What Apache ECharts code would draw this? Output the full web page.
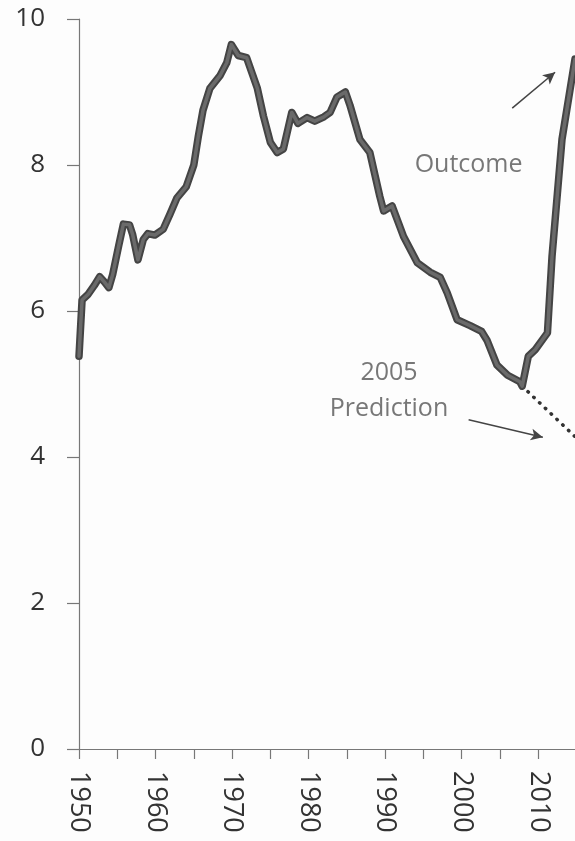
<!DOCTYPE html>
<html>
<head>
<meta charset="utf-8">
<script src="https://cdn.jsdelivr.net/npm/echarts@6/dist/echarts.min.js"></script>
<style>
html,body{margin:0;padding:0;background:#fdfdfd;}
#c{width:575px;height:841px;}
</style>
</head>
<body>
<div id="c"></div>
<script>
// Outcome series (year, value)
const years = [1950.0,1950.4,1951.2,1952.0,1952.7,1953.3,1953.9,1954.4,1955.2,1955.8,1956.6,1957.0,1957.7,1958.4,1959.0,1959.9,1961.0,1961.9,1962.8,1964.0,1965.0,1965.6,1966.2,1967.1,1968.4,1969.3,1969.9,1970.8,1971.9,1973.3,1974.1,1975.0,1975.9,1976.7,1977.8,1978.6,1979.8,1980.8,1982.0,1982.8,1983.7,1984.8,1985.4,1986.7,1988.0,1989.3,1989.8,1990.9,1992.4,1994.2,1995.9,1997.2,1998.1,1999.4,2001.1,2002.6,2003.3,2004.6,2006.0,2007.6,2007.9,2008.7,2009.6,2011.2,2011.8,2013.1,2014.8];
const values = [5.38,6.15,6.23,6.35,6.47,6.40,6.32,6.50,6.90,7.19,7.18,7.05,6.70,6.98,7.06,7.04,7.12,7.33,7.55,7.70,8.00,8.40,8.75,9.05,9.22,9.40,9.65,9.50,9.47,9.05,8.67,8.31,8.17,8.22,8.72,8.57,8.65,8.60,8.66,8.72,8.93,9.00,8.82,8.35,8.17,7.57,7.37,7.44,7.02,6.66,6.53,6.46,6.25,5.88,5.80,5.72,5.60,5.26,5.12,5.03,4.97,5.38,5.47,5.70,6.75,8.35,9.45];
// 2005 prediction (dotted)
const predYears = [2007.9, 2014.8];
const predValues = [4.97, 4.28];
// Axis ticks
const yTicks = [0, 2, 4, 6, 8, 10];
const xLabels = [1950, 1960, 1970, 1980, 1990, 2000, 2010];
// Annotations
const annotations = [
  {text: 'Outcome', x: 2000.9, y: 8.0},
  {text: '2005', x: 1990.5, y: 5.15},
  {text: 'Prediction', x: 1990.5, y: 4.66}
];
const arrows = [
  {from: [2006.6, 8.78], to: [2012.2, 9.27]},
  {from: [2000.9, 4.51], to: [2010.6, 4.27]}
];

const outcome = years.map((y, i) => [y, values[i]]);
const pred = predYears.map((y, i) => [y, predValues[i]]);

const chart = echarts.init(document.getElementById('c'), null, {renderer: 'canvas'});
const font = '"Open Sans", sans-serif';
chart.setOption({
  backgroundColor: '#fdfdfd',
  animation: false,
  grid: {left: 79, right: 0, top: 19, bottom: 92, containLabel: false},
  xAxis: {
    type: 'value', min: 1950, max: 2014.8, interval: 5,
    splitLine: {show: false},
    axisLine: {show: true, onZero: false, lineStyle: {color: '#777', width: 1.2}},
    axisTick: {show: true, length: 10, lineStyle: {color: '#777', width: 1.2}},
    axisLabel: {
      rotate: -90, margin: 22, fontSize: 27, color: '#333', fontFamily: font,
      showMaxLabel: false,
      formatter: v => (xLabels.indexOf(v) >= 0 ? String(v) : '')
    }
  },
  yAxis: {
    type: 'value', min: yTicks[0], max: yTicks[yTicks.length - 1], interval: 2,
    splitLine: {show: false},
    axisLine: {show: true, lineStyle: {color: '#777', width: 1.2}},
    axisTick: {show: true, length: 12, lineStyle: {color: '#777', width: 1.2}},
    axisLabel: {margin: 34, fontSize: 26, color: '#333', fontFamily: font}
  },
  series: [
    {
      type: 'line', data: outcome, symbol: 'none', clip: true,
      lineStyle: {color: '#444', width: 7.5, join: 'round', cap: 'round'}, z: 3
    },
    {
      type: 'line', data: outcome, symbol: 'none', clip: true,
      lineStyle: {color: '#6a6a6a', width: 3.5, join: 'round', cap: 'round'}, z: 4
    },
    {
      type: 'line', data: pred, symbol: 'none', clip: true,
      lineStyle: {color: '#333', width: 3.5, type: [0.5, 7.5], cap: 'round'}, z: 2,
      markLine: {
        silent: true, symbol: ['none', 'arrow'], symbolSize: [9, 12],
        label: {show: false},
        lineStyle: {color: '#444', width: 1.5, type: 'solid'},
        data: arrows.map(a => [{coord: a.from}, {coord: a.to}])
      }
    },
    {
      type: 'scatter', symbolSize: 0, silent: true,
      data: annotations.map(a => ({value: [a.x, a.y], label: {formatter: a.text}})),
      label: {show: true, position: 'inside', fontSize: 25, color: '#555', fontFamily: font}
    }
  ]
});
</script>
</body>
</html>
